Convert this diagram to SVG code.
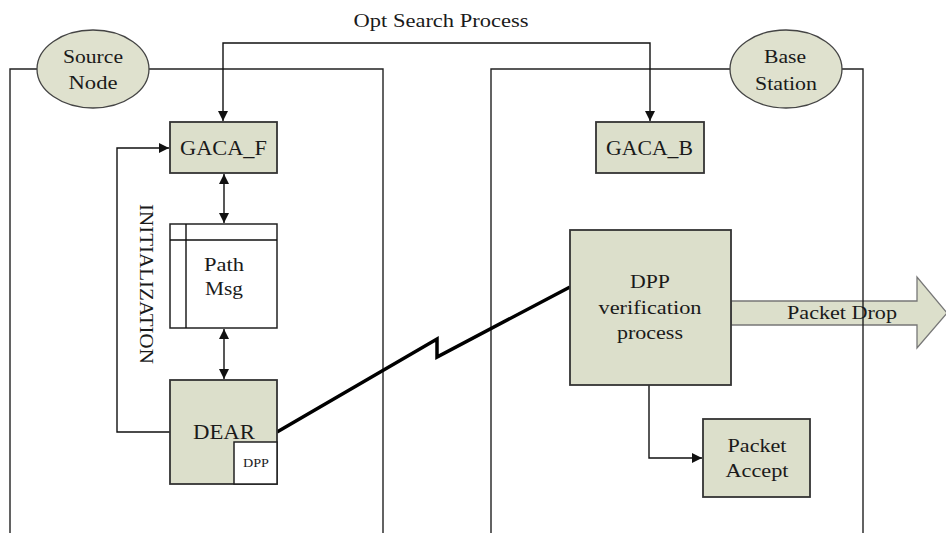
<svg xmlns="http://www.w3.org/2000/svg" width="946" height="533" viewBox="0 0 946 533">
<style>
.t{font-family:"Liberation Serif","Times New Roman",serif;fill:#1a1a1a;text-anchor:middle}
.box{fill:#dcdfcb;stroke:#333;stroke-width:1.8}
.wbox{fill:#fff;stroke:#222;stroke-width:1.5}
.ell{fill:#dfe1ce;stroke:#444;stroke-width:1.3}
.frame{fill:none;stroke:#222;stroke-width:1.4}
.ln{fill:none;stroke:#111;stroke-width:1.4}
</style>
<defs>
<marker id="ah" viewBox="0 0 10 10" refX="10" refY="5" markerWidth="10" markerHeight="10" markerUnits="userSpaceOnUse" orient="auto-start-reverse">
<path d="M0,0 L10,5 L0,10 z" fill="#111"/>
</marker>
</defs>
<rect width="946" height="533" fill="#fff"/>

<g id="packet-drop">
<polygon points="731,301 917,301 917,277 947,313 917,348 917,325 731,325" fill="#dcdfcb" stroke="#777" stroke-width="1.3"/>
</g>

<g id="frames">
<path class="frame" d="M10,533 V69 H383 V533"/>
<path class="frame" d="M491,533 V69 H863 V533"/>
</g>

<g id="connectors">
<path class="ln" d="M650,121 V43 H223 V121" marker-start="url(#ah)" marker-end="url(#ah)"/>
<path class="ln" d="M170,432 H117 V148 H169" marker-end="url(#ah)"/>
<path class="ln" d="M224,174 V223" marker-start="url(#ah)" marker-end="url(#ah)"/>
<path class="ln" d="M224,329 V379" marker-start="url(#ah)" marker-end="url(#ah)"/>
<path class="ln" d="M649,385 V458 H702" marker-end="url(#ah)"/>
<path fill="none" stroke="#000" stroke-width="3.5" stroke-linejoin="miter" d="M277,432 L437,339 L437,357 L570,287"/>
</g>

<text class="t" x="441" y="27" font-size="18" textLength="175" lengthAdjust="spacingAndGlyphs">Opt Search Process</text>

<g id="source-node">
<ellipse class="ell" cx="93" cy="69" rx="56" ry="39"/>
<text class="t" x="93" y="63" font-size="19" textLength="60" lengthAdjust="spacingAndGlyphs">Source</text>
<text class="t" x="93" y="89" font-size="19" textLength="49" lengthAdjust="spacingAndGlyphs">Node</text>
</g>

<g id="base-station">
<ellipse class="ell" cx="786" cy="69" rx="56" ry="39"/>
<text class="t" x="785" y="63" font-size="19" textLength="42" lengthAdjust="spacingAndGlyphs">Base</text>
<text class="t" x="786" y="90" font-size="19" textLength="62" lengthAdjust="spacingAndGlyphs">Station</text>
</g>

<g id="gaca-f">
<rect class="box" x="170" y="122" width="107" height="51"/>
<text class="t" x="223.5" y="155" font-size="20" textLength="87" lengthAdjust="spacingAndGlyphs">GACA_F</text>
</g>

<g id="gaca-b">
<rect class="box" x="596" y="122" width="108" height="51"/>
<text class="t" x="649.5" y="155" font-size="20" textLength="87" lengthAdjust="spacingAndGlyphs">GACA_B</text>
</g>

<g id="path-msg">
<rect class="wbox" x="170" y="224" width="107" height="104"/>
<path class="ln" d="M170,240 H277 M186,224 V328"/>
<text class="t" x="224" y="271" font-size="19" textLength="40" lengthAdjust="spacingAndGlyphs">Path</text>
<text class="t" x="224" y="295" font-size="19" textLength="38" lengthAdjust="spacingAndGlyphs">Msg</text>
</g>

<g id="initialization">
<text class="t" transform="translate(140,284) rotate(90)" x="0" y="0" font-size="18" textLength="160" lengthAdjust="spacingAndGlyphs">INITIALIZATION</text>
</g>

<g id="dear">
<rect class="box" x="170" y="380" width="107" height="104"/>
<rect class="wbox" x="234" y="442" width="43" height="42"/>
<text class="t" x="224" y="439" font-size="20" textLength="62" lengthAdjust="spacingAndGlyphs">DEAR</text>
<text class="t" x="256" y="467" font-size="12" textLength="26" lengthAdjust="spacingAndGlyphs">DPP</text>
</g>

<g id="dpp-verification">
<rect class="box" x="570" y="230" width="161" height="155"/>
<text class="t" x="650" y="288" font-size="19" textLength="40" lengthAdjust="spacingAndGlyphs">DPP</text>
<text class="t" x="650" y="314" font-size="19" textLength="103" lengthAdjust="spacingAndGlyphs">verification</text>
<text class="t" x="650" y="339" font-size="19" textLength="66" lengthAdjust="spacingAndGlyphs">process</text>
</g>

<text class="t" x="842" y="319" font-size="19" textLength="110" lengthAdjust="spacingAndGlyphs">Packet Drop</text>

<g id="packet-accept">
<rect class="box" x="703" y="419" width="107" height="78"/>
<text class="t" x="757" y="452" font-size="19" textLength="59" lengthAdjust="spacingAndGlyphs">Packet</text>
<text class="t" x="757" y="477" font-size="19" textLength="63" lengthAdjust="spacingAndGlyphs">Accept</text>
</g>
</svg>
